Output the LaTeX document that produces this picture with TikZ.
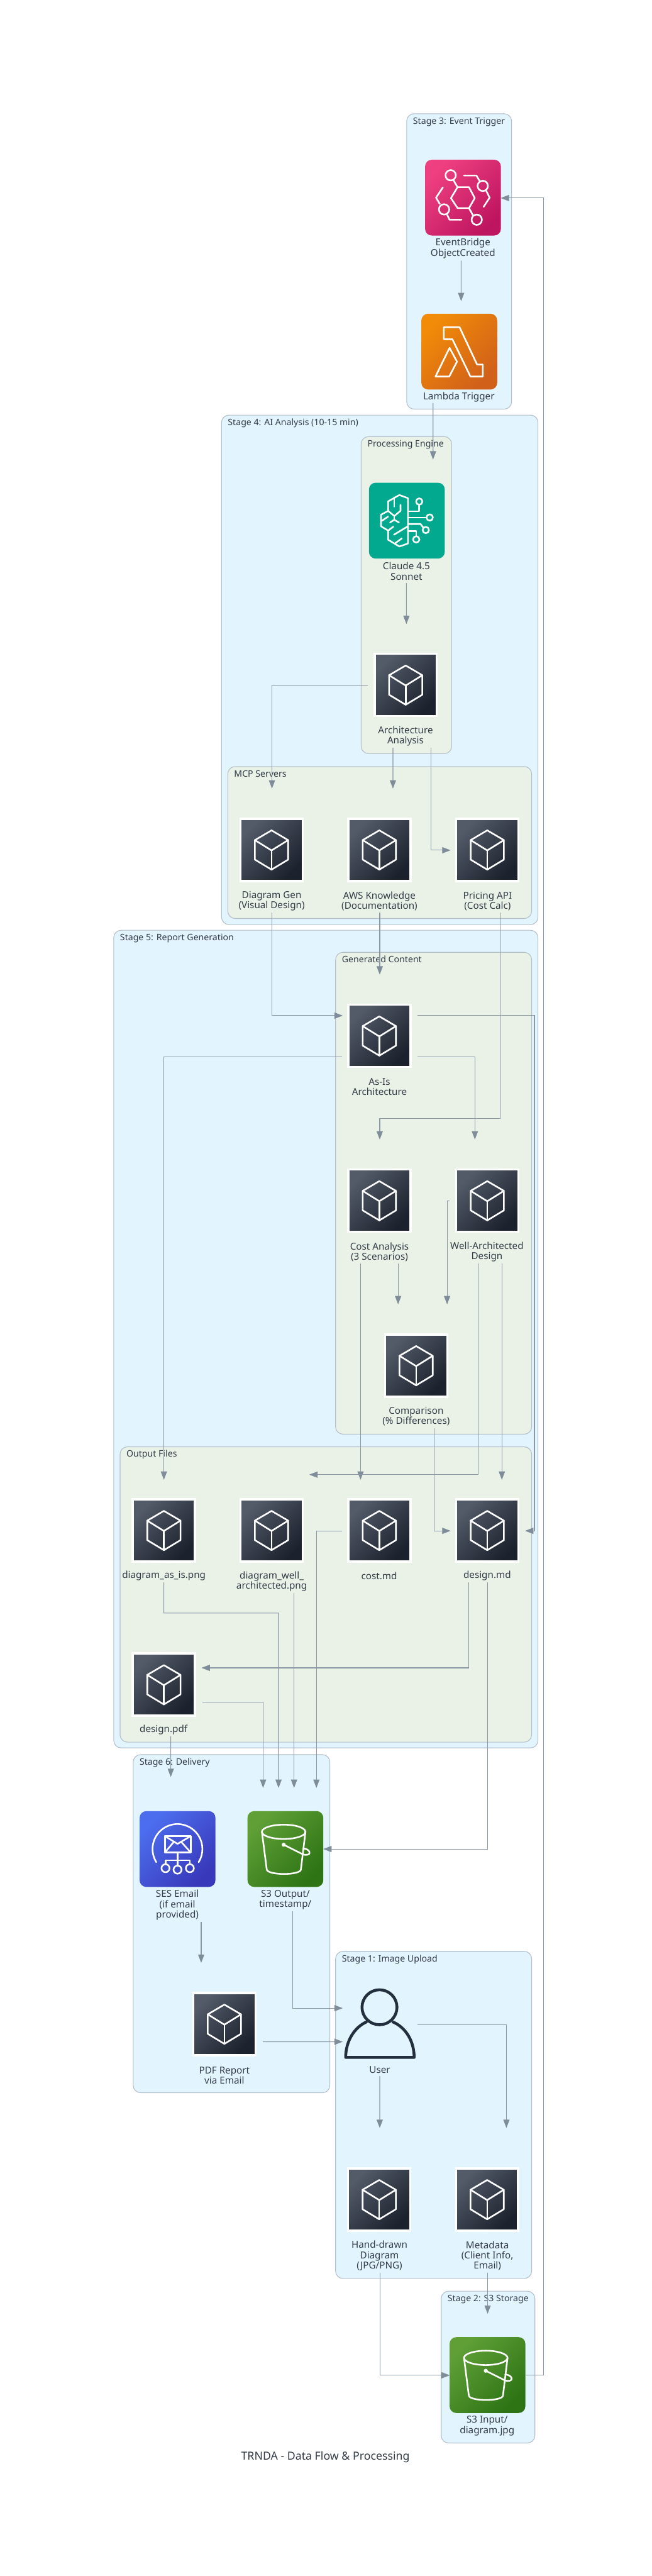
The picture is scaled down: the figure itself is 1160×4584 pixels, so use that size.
\documentclass[tikz,border=0pt]{standalone}
\usepackage{fontspec}
\setmainfont{Noto Sans}
\usepackage{xcolor}
\usetikzlibrary{arrows.meta,calc,shadows}
\definecolor{stageblue}{HTML}{E2F4FD}
\definecolor{innergreen}{HTML}{EAF2E7}
\definecolor{edgegrey}{HTML}{B3BFCB}
\definecolor{flowgrey}{HTML}{8A97A5}
\definecolor{tipgrey}{HTML}{7F8C9A}
\definecolor{txtgrey}{HTML}{323B47}
\definecolor{usernavy}{HTML}{232F3E}
\definecolor{svcdark}{HTML}{1B222D}
\definecolor{svclight}{HTML}{535A68}
\definecolor{ebdark}{HTML}{BE1560}
\definecolor{eblight}{HTML}{EE4080}
\definecolor{lamdark}{HTML}{D0601A}
\definecolor{lamlight}{HTML}{F28B08}
\definecolor{claudeteal}{HTML}{03A98E}
\definecolor{sesdark}{HTML}{3838BA}
\definecolor{seslight}{HTML}{4C6EEE}
\definecolor{sthreedark}{HTML}{2E7415}
\definecolor{sthreelight}{HTML}{5F9F36}
\newcommand{\lblfont}{\fontsize{9.7}{10.45}\selectfont}
\newcommand{\grpfont}{\fontsize{9.0}{10.45}\selectfont}
\newcommand{\grpbox}[7]{%
  \draw[#2] (#3,#4) rectangle (#5,#6);
  \node[grplbl] (#1) at (#3+11,#4+18.4) {#7};}
\newcommand{\cubeglyph}[1]{%
  \begin{scope}[shift={(#1)},scale=0.51,glyph]
    \draw (0,-68) -- (58,-34) -- (58,34) -- (0,69) -- (-58,34) -- (-58,-34) -- cycle;
    \draw (-58,-34) -- (0,2) -- (58,-34);
    \draw (0,2) -- (0,69);
  \end{scope}}
\newcommand{\bucketglyph}[1]{%
  \begin{scope}[shift={(#1)},scale=0.51,glyph]
    \draw (-6,-60) ellipse [x radius=76, y radius=25];
    \draw (-82,-60) -- (-65,72) .. controls (-60,92) and (50,92) .. (54,72) -- (70,-60);
    \fill[white] (-6,-15) circle (7);
    \draw (-6,-15) -- (58,17) .. controls (72,24) and (88,20) .. (84,10) .. controls (82,3) and (70,-2) .. (62,-2);
  \end{scope}}
\begin{document}
\begin{tikzpicture}[
  x=0.02cm, y=-0.02cm,
  flow/.style    = {draw=flowgrey, line width=0.7pt, -{Triangle[length=8.5pt,width=6.3pt,color=tipgrey]}},
  stagebx/.style = {draw=edgegrey, line width=0.7pt, fill=stageblue, rounded corners=7.5pt},
  innerbx/.style = {draw=edgegrey, line width=0.7pt, fill=innergreen, rounded corners=7.5pt},
  grplbl/.style  = {anchor=base west, inner sep=0pt, font=\grpfont, text=txtgrey},
  lbl/.style     = {align=center, inner sep=0pt, font=\lblfont, text=txtgrey},
  title/.style   = {inner sep=0pt, font=\fontsize{11.3}{13}\selectfont, text=txtgrey},
  glyph/.style   = {draw=white, line width=1.65pt, line join=round, line cap=round},
  svc/.style     = {draw=white, line width=2.28pt, minimum size=63pt, inner sep=0pt,
                    bottom color=svcdark, top color=svclight, shading angle=45,
                    drop shadow={shadow xshift=0.3pt, shadow yshift=-0.3pt, opacity=0.22, fill=black}},
  awsicon/.style 2 args = {minimum size=76.8pt, inner sep=0pt, rounded corners=6.8pt,
                    bottom color=#1, top color=#2, shading angle=45}
]
\useasboundingbox[fill=white] (0,0) rectangle (1160,4584);

\grpbox{g3}{stagebx}{723.9}{202.4}{910.6}{728}{Stage 3: Event Trigger}
\grpbox{g4}{stagebx}{394.3}{738.7}{957.6}{1645.2}{Stage 4: AI Analysis (10-15 min)}
\grpbox{gproc}{innerbx}{642.8}{777}{804}{1341.1}{Processing Engine}
\grpbox{gmcp}{innerbx}{405.5}{1364}{946.3}{1634.5}{MCP Servers}
\grpbox{g5}{stagebx}{202.4}{1655.4}{957.6}{3110.3}{Stage 5: Report Generation}
\grpbox{ggen}{innerbx}{597.3}{1694.6}{946.3}{2552.1}{Generated Content}
\grpbox{gout}{innerbx}{213.7}{2574.6}{946.3}{3100.1}{Output Files}
\grpbox{g6}{stagebx}{237.1}{3122.4}{587.1}{3724}{Stage 6: Delivery}
\grpbox{g1}{stagebx}{597.3}{3472.4}{946.3}{4054.5}{Stage 1: Image Upload}
\grpbox{g2}{stagebx}{785.3}{4077.2}{952.1}{4347.3}{Stage 2: S3 Storage}

\node[awsicon={ebdark}{eblight}] (eb) at (824.1, 351.7) {};
\node[awsicon={lamdark}{lamlight}] (lam) at (817.5, 625.7) {};
\node[awsicon={claudeteal}{claudeteal}] (claude) at (724.2, 926.5) {};
\node[svc] (arch) at (722.1, 1218.9) {};
\node[svc] (dgen) at (483.3, 1512.3) {};
\node[svc] (know) at (675.2, 1512.3) {};
\node[svc] (price) at (867.3, 1512.3) {};
\node[svc] (asis) at (675.2, 1843.3) {};
\node[svc] (cost) at (675.2, 2136.5) {};
\node[svc] (wa) at (867.3, 2136.5) {};
\node[svc] (cmp) at (740.7, 2430) {};
\node[svc] (fpng) at (291.7, 2723.3) {};
\node[svc] (wpng) at (483.3, 2723.3) {};
\node[svc] (cmd) at (675.2, 2723.3) {};
\node[svc] (dmd) at (867.3, 2723.3) {};
\node[svc] (pdf) at (291.7, 2997.8) {};
\node[awsicon={sesdark}{seslight}] (ses) at (316, 3290.3) {};
\node[awsicon={sthreedark}{sthreelight}] (s3out) at (508, 3290.3) {};
\node[svc] (rep) at (399.4, 3601.8) {};
\node[minimum size=72pt, inner sep=0pt] (usr) at (676.5, 3602) {};
\node[svc] (hand) at (675, 3914) {};
\node[svc] (meta) at (867.1, 3914) {};
\node[awsicon={sthreedark}{sthreelight}] (s3in) at (867.7, 4226.4) {};

\cubeglyph{arch}
\cubeglyph{dgen}
\cubeglyph{know}
\cubeglyph{price}
\cubeglyph{asis}
\cubeglyph{cost}
\cubeglyph{wa}
\cubeglyph{cmp}
\cubeglyph{fpng}
\cubeglyph{wpng}
\cubeglyph{cmd}
\cubeglyph{dmd}
\cubeglyph{pdf}
\cubeglyph{rep}
\cubeglyph{hand}
\cubeglyph{meta}
\bucketglyph{s3out}
\bucketglyph{s3in}

\begin{scope}[shift={(eb)},scale=0.51,glyph]
  \draw (-42,1.5) -- (-19,-36.5) -- (21,-36.5) -- (41,1.5) -- (21,36.5) -- (-19,36.5) -- cycle;
  \draw (-43,-78) circle (18);
  \draw (69,-41) circle (18);
  \draw (-66,41) circle (18);
  \draw (48,77) circle (18);
  \draw (-34,-62) -- (-19,-36.5);
  \draw (21,36.5) -- (35,62);
  \draw (3,-77) -- (47,-77) -- (58,-58);
  \draw (81,-24) -- (93,0) -- (72,32);
  \draw (-70,-36) -- (-94,0) -- (-81,22);
  \draw (-55,60) -- (-47,77) -- (-5,77);
\end{scope}
\begin{scope}[shift={(lam)},scale=0.51,glyph]
  \draw (-54,-85) -- (1,-85) -- (62,45) -- (82,45) -- (82,87) -- (39,87) -- (-24,-43) -- (-54,-43) -- cycle;
  \draw (-83,87) -- (-34,-13) -- (-8,35) -- (-35,87) -- cycle;
\end{scope}
\begin{scope}[shift={(claude)},scale=0.3333,glyph]
  \draw (6,-120) -- (-40,-137) -- (-100,-103) -- (-100,-52) -- (-138,-32) -- (-138,30) -- (-100,53) -- (-100,102) -- (-40,138) -- (6,122) -- cycle;
  \draw (-67,-125) -- (-67,-75);
  \draw (-34,-85) -- (-34,-52) -- (-67,-25) -- (-100,-52);
  \draw (-67,-25) -- (-67,-5);
  \draw (-90,10) -- (-67,-5) -- (-42,10);
  \draw (-132,0) -- (-100,-22);
  \draw (-100,53) -- (-72,32);
  \draw (-69,75) -- (6,30);
  \draw (-62,120) -- (-27,95);
  \draw (6,-50) -- (66,-50) -- (66,-85);
  \draw (66,-102) circle (17);
  \draw (6,-17) -- (104,-17);
  \draw (122,-17) circle (17);
  \draw (6,18) -- (73,18) -- (86,35);
  \draw (101,50) circle (17);
  \draw (6,56) -- (50,56) -- (50,82);
  \draw (50,100) circle (17);
\end{scope}
\begin{scope}[shift={(ses)},scale=0.51,glyph]
  \draw (-74,46) arc [start angle=148, end angle=392, radius=87];
  \draw (-44,-45) rectangle (46,12);
  \draw (-44,-45) -- (0,-18) -- (46,-45);
  \draw (-44,12) -- (-12,-26);
  \draw (46,12) -- (12,-26);
  \draw (0,12) -- (0,58);
  \draw (-42,52) -- (-42,39) -- (43,39) -- (43,52);
  \draw (-42,67) circle (14);
  \draw (0,72) circle (14);
  \draw (43,67) circle (14);
\end{scope}
\begin{scope}[shift={(usr)},scale=0.51,draw=usernavy,line width=2.9pt,line join=round]
  \draw (-2,-59) circle (61);
  \draw (-45,-9) .. controls (-90,10) and (-120,60) .. (-120,116) -- (119,116) .. controls (119,60) and (90,10) .. (42,-9);
\end{scope}

\node[lbl] (ebtxt) at (824, 442) {EventBridge\\ObjectCreated};
\node[lbl] (lamtxt) at (816.7, 706.5) {Lambda Trigger};
\node[lbl] (claudetxt) at (723.4, 1016.4) {Claude 4.5\\Sonnet};
\node[lbl] (archtxt) at (721.8, 1310) {Architecture\\Analysis};
\node[lbl] (dgentxt) at (483.6, 1603.6) {Diagram Gen\\(Visual Design)};
\node[lbl] (knowtxt) at (675.4, 1603.6) {AWS Knowledge\\(Documentation)};
\node[lbl] (pricetxt) at (867.8, 1603.6) {Pricing API\\(Cost Calc)};
\node[lbl] (asistxt) at (675.4, 1934) {As-Is\\Architecture};
\node[lbl] (costtxt) at (675.4, 2227.8) {Cost Analysis\\(3 Scenarios)};
\node[lbl] (watxt) at (866.7, 2227.8) {Well-Architected\\Design};
\node[lbl] (cmptxt) at (740.7, 2520.7) {Comparison\\(\% Differences)};
\node[lbl] (fpngtxt) at (291.7, 2804.2) {diagram\_as\_is.png};
\node[lbl] (wpngtxt) at (483.6, 2814) {diagram\_well\_\\architected.png};
\node[lbl] (cmdtxt) at (674.9, 2804.2) {cost.md};
\node[lbl] (dmdtxt) at (867.2, 2804.2) {design.md};
\node[lbl] (pdftxt) at (291.2, 3078.2) {design.pdf};
\node[lbl] (sestxt) at (315.7, 3390) {SES Email\\(if email\\provided)};
\node[lbl] (s3outtxt) at (508, 3380.8) {S3 Output/\\timestamp/};
\node[lbl] (reptxt) at (399.4, 3693) {PDF Report\\via Email};
\node[lbl] (usrtxt) at (676, 3682.7) {User};
\node[lbl] (handtxt) at (675.4, 4014.3) {Hand-drawn\\Diagram\\(JPG/PNG)};
\node[lbl] (metatxt) at (867.5, 4014.3) {Metadata\\(Client Info,\\Email)};
\node[lbl] (s3intxt) at (867.1, 4316.7) {S3 Input/\\diagram.jpg};
\node[title] (ttl) at (579.2, 4372.8) {TRNDA - Data Flow \& Processing};

\draw[flow] ($(eb)+(-3.3,112)$) -- ($(lam)+(3.3,-89.7)$);
\draw[flow] ($(lam)+(-46.7,91.5)$) -- ($(claude)+(46.6,-108.7)$);
\draw[flow] ($(claude)+(-0.8,111)$) -- ($(arch)+(1.3,-108.4)$);
\draw[flow] ($(arch)+(-67,0.8)$) -| ($(dgen)+(0.8,-109)$);
\draw[flow] ($(arch)+(-22.7,112)$) -- ($(know)+(24.2,-109)$);
\draw[flow] ($(arch)+(44.6,112)$) |- ($(price)+(-65.3,0.7)$);
\draw[flow] ($(dgen)+(0.8,112)$) |- ($(asis)+(-65.1,-36)$);
\draw[flow] ($(know)+(0.7,112)$) -- ($(asis)+(0.7,-109)$);
\draw[flow] ($(price)+(23.4,112)$) |- ($(cost)+(0.7,-146)$) -- ($(cost)+(0.7,-108.7)$);
\draw[flow] ($(asis)+(68,-36)$) -| ($(dmd)+(84,0.8)$) -- ($(dmd)+(67.3,0.8)$);
\draw[flow] ($(asis)+(68,37.5)$) -| ($(wa)+(-22,-108.7)$);
\draw[flow] ($(asis)+(-66.6,37.5)$) -| ($(fpng)+(0,-90)$);
\draw[flow] ($(cost)+(33.4,111.7)$) -- ($(cmp)+(-32.1,-108.9)$);
\draw[flow] ($(wa)+(-67.4,0.4)$) -| ($(cmp)+(55.1,-108.9)$);
\draw[flow] ($(cost)+(-33.5,111.7)$) -- ($(cmd)+(-33.5,-90)$);
\draw[flow] ($(wa)+(-16.4,111.7)$) |- ($(wpng)+(67.1,-99.2)$);
\draw[flow] ($(wa)+(26,111.7)$) -- ($(dmd)+(26,-90)$);
\draw[flow] ($(cmp)+(31.6,111.4)$) |- ($(dmd)+(-65.3,0.8)$);
\draw[flow] ($(dmd)+(-32.7,92.6)$) |- ($(pdf)+(66.9,-29.9)$);
\draw[flow] ($(dmd)+(0.5,92.6)$) |- ($(s3out)+(67.4,0)$);
\draw[flow] ($(fpng)+(0,92.6)$) |- ($(wpng)+(12.5,147.2)$) -- ($(s3out)+(-12.2,-108.7)$);
\draw[flow] ($(wpng)+(40.1,111.5)$) -- ($(s3out)+(15.4,-108.7)$);
\draw[flow] ($(cmd)+(-66.6,0.8)$) -| ($(s3out)+(55.2,-108.7)$);
\draw[flow] ($(pdf)+(68.4,31.4)$) -| ($(s3out)+(-39.7,-108.7)$);
\draw[flow] ($(pdf)+(12.3,91.6)$) -- ($(ses)+(-12,-128.1)$);
\draw[flow] ($(ses)+(42.1,130.1)$) -- ($(rep)+(-41.3,-108.9)$);
\draw[flow] ($(s3out)+(13.3,111.2)$) |- ($(usr)+(-66.4,-28.5)$);
\draw[flow] ($(rep)+(68.4,31.4)$) -- ($(usr)+(-66.4,31.2)$);
\draw[flow] ($(usr)+(-0.6,92.4)$) -- ($(hand)+(0.9,-127.3)$);
\draw[flow] ($(usr)+(66.8,0.6)$) -| ($(meta)+(34.3,-127.3)$);
\draw[flow] ($(hand)+(1.2,130.2)$) |- ($(s3in)+(-67,0.4)$);
\draw[flow] ($(meta)+(0.8,130.2)$) -- ($(s3in)+(0.2,-109)$);
\draw[flow] ($(s3in)+(67.4,0.4)$) -| ($(eb)+(143.2,0.7)$) -- ($(eb)+(67.1,0.7)$);
\end{tikzpicture}
\end{document}
